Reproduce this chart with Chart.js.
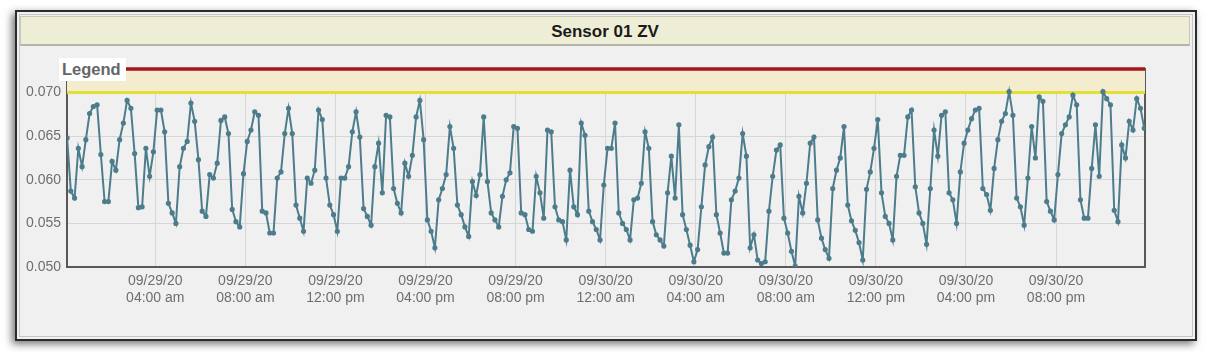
<!DOCTYPE html>
<html>
<head>
<meta charset="utf-8">
<script src="https://cdn.jsdelivr.net/npm/chart.js@4.4.0/dist/chart.umd.min.js"></script>
<style>
  html, body { margin: 0; padding: 0; background: #fff; width: 1211px; height: 352px; overflow: hidden; }
  body { position: relative; font-family: 'Liberation Sans', Arial, sans-serif; }
  #frame { position: absolute; left: 15px; top: 10px; width: 1178px; height: 327px;
           border: 2px solid #2c2c2c; background: #f0f0f0; box-shadow: -3px 3px 8px rgba(0,0,0,0.55); }
  #inner { position: absolute; left: 2px; top: 2px; right: 2px; bottom: 2px; border: 1px solid #c6c6c6; }
  #titlebar { position: absolute; left: 20px; top: 16px; width: 1168px; height: 27px;
              background: #eeeed6; border: 1px solid #c9c9b6; border-bottom: 2px solid #b4b4aa;
              text-align: center; font-weight: bold; font-size: 17px; line-height: 29px; color: #1a1a1a; }
  #legend { position: absolute; left: 59px; top: 58px; width: 67px; height: 23px; background: #fff;
            font-weight: bold; font-size: 16.5px; line-height: 23px; color: #666; padding-left: 3px; box-sizing: border-box; }
  #wrap { position: absolute; left: 0; top: 0; width: 1211px; height: 352px; }
</style>
</head>
<body>
<div id="frame"><div id="inner"></div></div>
<div id="titlebar">Sensor 01 ZV</div>
<div id="wrap"><canvas id="chart" width="1211" height="352"></canvas></div>
<div id="legend">Legend</div>
<script>
// readings every 10 minutes starting 09/29/20 00:05
const START_HOUR = 5 / 60;
const STEP_HOUR = 10 / 60;

const day1 = [
  0.0648, 0.0587, 0.0579, 0.0636, 0.0615, 0.0646, 0.0676, 0.0684, 0.0686, 0.0629, 0.0575, 0.0575,
  0.0621, 0.0611, 0.0646, 0.0665, 0.0691, 0.0682, 0.0630, 0.0568, 0.0569, 0.0636, 0.0604, 0.0632,
  0.0680, 0.0680, 0.0655, 0.0573, 0.0562, 0.0550, 0.0615, 0.0636, 0.0644, 0.0688, 0.0667, 0.0623,
  0.0564, 0.0558, 0.0606, 0.0602, 0.0619, 0.0668, 0.0672, 0.0653, 0.0566, 0.0552, 0.0546, 0.0607,
  0.0644, 0.0657, 0.0678, 0.0674, 0.0564, 0.0562, 0.0539, 0.0539, 0.0602, 0.0609, 0.0653, 0.0682,
  0.0653, 0.0571, 0.0556, 0.0541, 0.0602, 0.0596, 0.0611, 0.0680, 0.0669, 0.0602, 0.0571, 0.0560,
  0.0541, 0.0602, 0.0602, 0.0615, 0.0655, 0.0678, 0.0649, 0.0567, 0.0558, 0.0548, 0.0615, 0.0642,
  0.0585, 0.0674, 0.0672, 0.0590, 0.0573, 0.0562, 0.0619, 0.0604, 0.0628, 0.0672, 0.0691, 0.0646,
  0.0554, 0.0541, 0.0522, 0.0577, 0.0590, 0.0606, 0.0661, 0.0636, 0.0571, 0.0560, 0.0546, 0.0535,
  0.0598, 0.0582, 0.0606, 0.0672, 0.0598, 0.0562, 0.0554, 0.0546, 0.0581, 0.0600, 0.0608, 0.0661,
  0.0659, 0.0562, 0.0560, 0.0543, 0.0541, 0.0604, 0.0585, 0.0556, 0.0657, 0.0655, 0.0569, 0.0554,
  0.0552, 0.0531, 0.0611, 0.0569, 0.0560, 0.0665, 0.0651, 0.0564, 0.0552, 0.0543, 0.0531, 0.0594
];
const day2 = [
  0.0636, 0.0636, 0.0665, 0.0562, 0.0550, 0.0543, 0.0531, 0.0577, 0.0579, 0.0596, 0.0655, 0.0636,
  0.0552, 0.0537, 0.0531, 0.0524, 0.0585, 0.0627, 0.0579, 0.0663, 0.0560, 0.0543, 0.0525, 0.0506,
  0.0520, 0.0569, 0.0617, 0.0638, 0.0649, 0.0560, 0.0539, 0.0516, 0.0516, 0.0577, 0.0587, 0.0602,
  0.0653, 0.0627, 0.0522, 0.0537, 0.0508, 0.0504, 0.0506, 0.0564, 0.0604, 0.0634, 0.0640, 0.0556,
  0.0539, 0.0518, 0.0501, 0.0581, 0.0562, 0.0596, 0.0642, 0.0649, 0.0554, 0.0533, 0.0520, 0.0510,
  0.0590, 0.0611, 0.0625, 0.0661, 0.0571, 0.0553, 0.0542, 0.0528, 0.0508, 0.0589, 0.0609, 0.0636,
  0.0669, 0.0585, 0.0558, 0.0550, 0.0531, 0.0604, 0.0628, 0.0628, 0.0672, 0.0680, 0.0592, 0.0562,
  0.0550, 0.0526, 0.0590, 0.0657, 0.0627, 0.0674, 0.0678, 0.0585, 0.0577, 0.0550, 0.0609, 0.0642,
  0.0657, 0.0670, 0.0680, 0.0682, 0.0590, 0.0583, 0.0565, 0.0613, 0.0646, 0.0667, 0.0676, 0.0701,
  0.0674, 0.0579, 0.0569, 0.0548, 0.0602, 0.0661, 0.0625, 0.0695, 0.0690, 0.0575, 0.0564, 0.0554,
  0.0606, 0.0653, 0.0663, 0.0672, 0.0697, 0.0686, 0.0577, 0.0556, 0.0556, 0.0613, 0.0663, 0.0604,
  0.0701, 0.0693, 0.0686, 0.0565, 0.0552, 0.0640, 0.0625, 0.0667, 0.0657, 0.0693, 0.0682, 0.0659
];

const alarmHigh = 0.0727;
const warnHigh = 0.070;

const yTicks = [0.050, 0.055, 0.060, 0.065, 0.070];
const tickHours = [4, 8, 12, 16, 20, 24, 28, 32, 36, 40, 44];
const tickDates = ['09/29/20', '09/29/20', '09/29/20', '09/29/20', '09/29/20',
                   '09/30/20', '09/30/20', '09/30/20', '09/30/20', '09/30/20', '09/30/20'];
const tickTimes = ['04:00 am', '08:00 am', '12:00 pm', '04:00 pm', '08:00 pm',
                   '12:00 am', '04:00 am', '08:00 am', '12:00 pm', '04:00 pm', '08:00 pm'];

const X_MIN = 0.08, X_MAX = 47.95;
const Y_MIN = 0.050;

const readings = day1.concat(day2).map((v, i) => ({ x: START_HOUR + i * STEP_HOUR, y: v }));

Chart.defaults.font.family = "'Liberation Sans', Arial, sans-serif";
Chart.defaults.color = '#6e6e6e';

new Chart(document.getElementById('chart'), {
  type: 'line',
  data: {
    datasets: [
      {
        data: readings,
        borderColor: '#4d7c8c',
        backgroundColor: '#4d7c8c',
        borderWidth: 2,
        pointRadius: 1.6,
        pointHoverRadius: 1.6,
        tension: 0,
        order: 0
      },
      {
        // alarm limit, drawn after the band fill
        data: [{ x: X_MIN, y: alarmHigh }, { x: X_MAX, y: alarmHigh }],
        borderColor: '#a3161a',
        borderWidth: 3.5,
        pointRadius: 0,
        clip: false,
        order: 1
      },
      {
        data: [{ x: X_MIN, y: warnHigh }, { x: X_MAX, y: warnHigh }],
        borderColor: '#e2e030',
        backgroundColor: '#f4ecce',
        borderWidth: 3,
        pointRadius: 0,
        fill: '-1',
        order: 2
      }
    ]
  },
  options: {
    responsive: false,
    animation: false,
    events: [],
    layout: { padding: { left: 0, right: 66, top: 69, bottom: 35 } },
    plugins: { legend: { display: false }, tooltip: { enabled: false } },
    scales: {
      x: {
        type: 'linear',
        min: X_MIN,
        max: X_MAX,
        afterFit: s => { s.height = 50; },
        afterBuildTicks: s => { s.ticks = tickHours.map(v => ({ value: v })); },
        grid: { color: '#d6d6d6', drawTicks: false },
        border: { display: true, color: '#585858', width: 2 },
        ticks: {
          padding: 6,
          maxRotation: 0,
          autoSkip: false,
          font: { size: 14 },
          callback: (v) => {
            const k = tickHours.indexOf(v);
            return k >= 0 ? [tickDates[k], tickTimes[k]] : '';
          }
        }
      },
      y: {
        min: Y_MIN,
        max: alarmHigh,
        afterFit: s => { s.width = 67; },
        afterBuildTicks: s => { s.ticks = yTicks.map(v => ({ value: v })); },
        grid: { color: '#d6d6d6', drawTicks: false },
        border: { display: true, color: '#585858', width: 2 },
        ticks: {
          padding: 6,
          font: { size: 14 },
          callback: v => v.toFixed(3)
        }
      },
      yRight: {
        position: 'right',
        min: Y_MIN,
        max: alarmHigh,
        afterFit: s => { s.width = 0; },
        grid: { display: false, drawTicks: false },
        border: { display: true, color: '#585858', width: 2 },
        ticks: { display: false }
      }
    }
  }
});
</script>
</body>
</html>
